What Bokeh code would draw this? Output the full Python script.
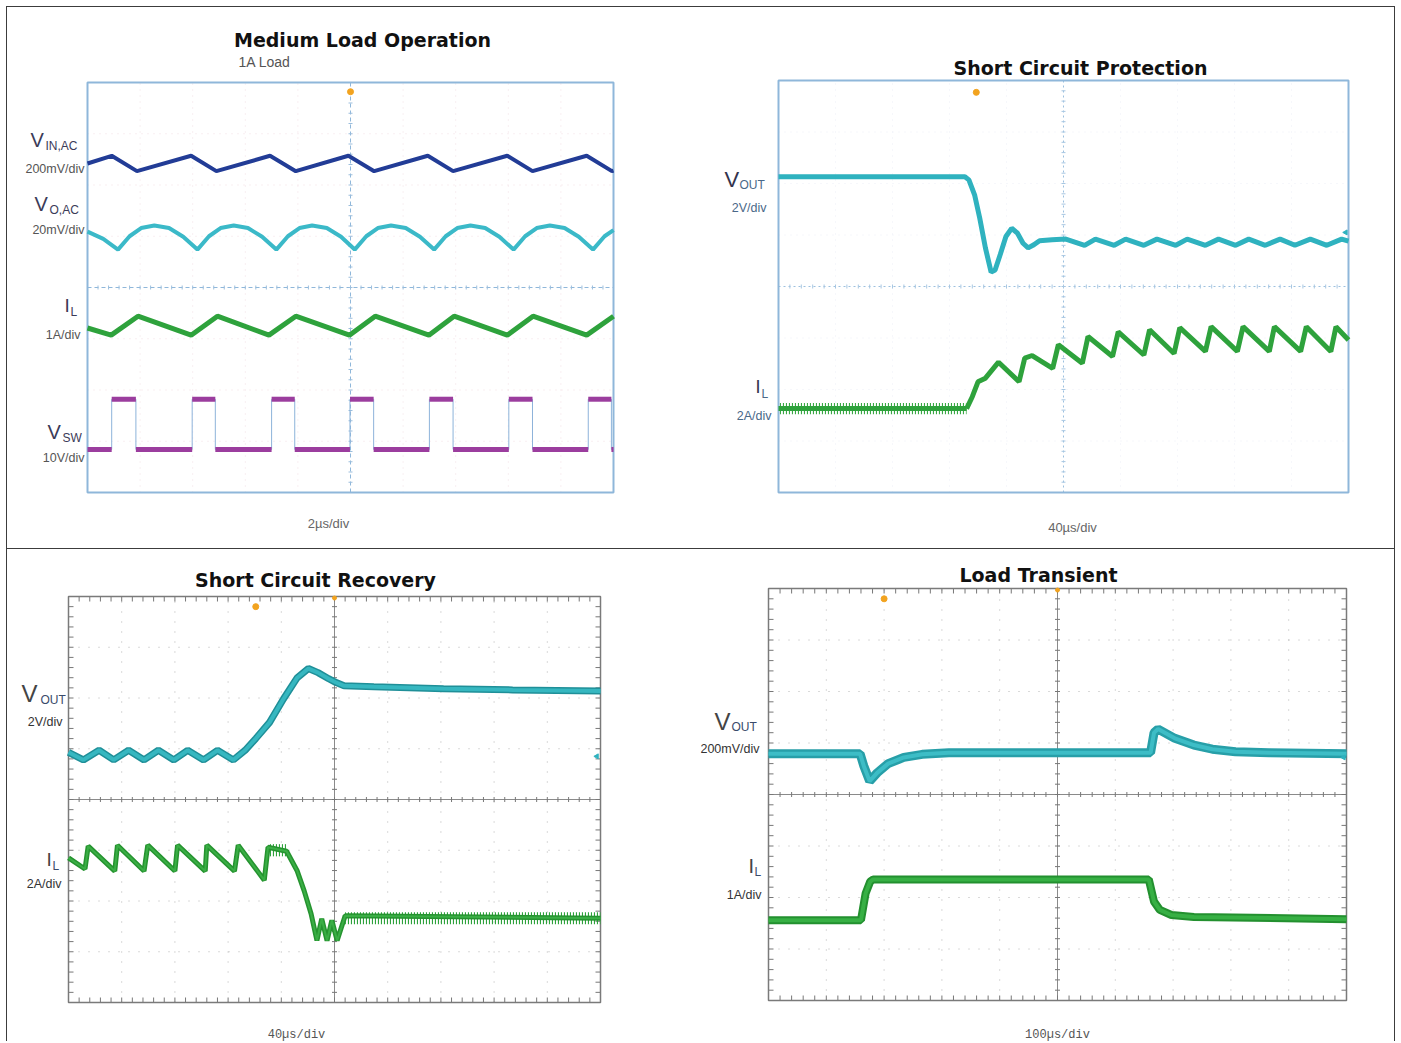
import numpy as np
from bokeh.plotting import figure
from bokeh.layouts import row, column
from bokeh.models import Range1d
from bokeh.core.properties import value
from bokeh.embed import file_html
from bokeh.resources import INLINE

# ---------------- DATA (time in horizontal divisions, amplitude in vertical divisions) -------------
# Panel 1: Medium Load Operation (2us/div)
vin_t = [0, 0.46, 0.94, 1.97, 2.45, 3.47, 3.96, 4.96, 5.45, 6.47, 6.95, 7.98, 8.46, 9.49, 9.97, 10]
vin_v = [2.42, 2.57, 2.27, 2.57, 2.27, 2.57, 2.27, 2.57, 2.27, 2.57, 2.27, 2.57, 2.27, 2.57, 2.27, 2.28]
vo_t = [0, 0.30, 0.58, 0.80, 1.02, 1.27, 1.55, 1.82, 2.09, 2.31, 2.53, 2.78, 3.05, 3.32, 3.59, 3.81,
        4.03, 4.27, 4.55, 4.82, 5.08, 5.30, 5.52, 5.77, 6.05, 6.32, 6.59, 6.81, 7.03, 7.28, 7.56, 7.83,
        8.10, 8.32, 8.54, 8.79, 9.07, 9.34, 9.61, 9.83, 10]
vo_v = [1.09, 0.95, 0.74, 1.00, 1.16, 1.21, 1.16, 0.99, 0.74, 1.00, 1.16, 1.21, 1.16, 0.99, 0.74, 1.00,
        1.16, 1.21, 1.16, 0.99, 0.74, 1.00, 1.16, 1.21, 1.16, 0.99, 0.74, 1.00, 1.16, 1.21, 1.16, 0.99,
        0.74, 1.00, 1.16, 1.21, 1.16, 0.99, 0.74, 1.00, 1.12]
il1_t = [0, 0.45, 0.96, 1.97, 2.47, 3.45, 3.96, 4.98, 5.47, 6.49, 6.97, 7.98, 8.47, 9.49, 10]
il1_v = [-0.79, -0.93, -0.56, -0.93, -0.56, -0.93, -0.56, -0.93, -0.56, -0.93, -0.56, -0.93, -0.56, -0.93, -0.56]
vsw_rise = [0.46, 1.99, 3.50, 4.99, 6.50, 8.01, 9.52]
vsw_fall = [0.92, 2.43, 3.94, 5.44, 6.95, 8.46, 9.96]
vsw_hi = -2.18
vsw_lo = -3.16

# Panel 2: Short Circuit Protection (40us/div)
vout2_t = [0, 3.27, 3.34, 3.44, 3.53, 3.63, 3.73, 3.80, 3.89, 3.99, 4.09, 4.19, 4.29, 4.38, 4.48, 4.58,
           4.80, 5.04, 5.37, 5.56, 5.89, 6.09, 6.41, 6.64, 6.97, 7.17, 7.49, 7.72, 8.02, 8.25, 8.54,
           8.80, 9.06, 9.33, 9.62, 9.88, 10]
vout2_v = [2.13, 2.13, 2.07, 1.78, 1.33, 0.75, 0.28, 0.32, 0.62, 0.97, 1.13, 1.04, 0.84, 0.75, 0.81, 0.89,
           0.91, 0.92, 0.80, 0.92, 0.80, 0.92, 0.80, 0.92, 0.80, 0.92, 0.80, 0.92, 0.80, 0.92, 0.80,
           0.92, 0.80, 0.92, 0.80, 0.92, 0.88]
il2_pre_t = [0, 3.30]
il2_pre_v = -2.37
il2_t = [3.30, 3.40, 3.50, 3.63, 3.86, 4.22, 4.32, 4.45, 4.81, 4.91, 5.33, 5.43, 5.86, 5.96, 6.41, 6.51,
         6.94, 7.04, 7.49, 7.59, 8.05, 8.15, 8.61, 8.70, 9.16, 9.26, 9.69, 9.78, 10]
il2_v = [-2.37, -2.14, -1.85, -1.78, -1.47, -1.85, -1.39, -1.34, -1.59, -1.13, -1.49, -0.97, -1.36, -0.88,
         -1.33, -0.84, -1.30, -0.80, -1.26, -0.78, -1.26, -0.78, -1.26, -0.78, -1.26, -0.78, -1.26, -0.78, -1.04]

# Panel 3: Short Circuit Recovery (40us/div)
vout3_t = [0, 0.28, 0.575, 0.85, 1.13, 1.42, 1.69, 1.98, 2.24, 2.54, 2.80, 3.10, 3.32, 3.52, 3.78, 4.04,
           4.30, 4.51, 4.69, 4.89, 5.02, 5.18, 5.74, 7.05, 8.35, 10]
vout3_v = [0.93, 0.78, 0.97, 0.78, 0.97, 0.78, 0.97, 0.78, 0.97, 0.78, 0.97, 0.78, 0.97, 1.20, 1.52, 1.98,
           2.40, 2.58, 2.50, 2.38, 2.31, 2.24, 2.22, 2.18, 2.16, 2.14]
il3_t = [0, 0.31, 0.37, 0.87, 0.92, 1.42, 1.49, 2.00, 2.05, 2.57, 2.60, 3.12, 3.19, 3.68, 3.75, 4.10,
         4.30, 4.43, 4.56, 4.67, 4.76, 4.86, 4.95, 5.05, 5.20, 10]
il3_v = [-1.15, -1.37, -0.92, -1.41, -0.90, -1.41, -0.90, -1.41, -0.90, -1.41, -0.90, -1.41, -0.90, -1.59,
         -0.94, -1.02, -1.41, -1.80, -2.25, -2.78, -2.35, -2.78, -2.38, -2.78, -2.29, -2.34]
il3_noise_t = [[3.75, 4.10], [5.20, 10]]
il3_noise_v = [-1.00, -2.34]

# Panel 4: Load Transient (100us/div)
vout4_t = [0, 1.585, 1.65, 1.75, 1.88, 2.07, 2.34, 2.66, 3.12, 6.61, 6.67, 6.74, 7.03, 7.36, 7.68, 8.08, 8.66, 10]
vout4_v = [0.79, 0.79, 0.55, 0.26, 0.42, 0.60, 0.72, 0.78, 0.81, 0.81, 1.20, 1.27, 1.09, 0.96, 0.88, 0.83, 0.81, 0.79]
il4_t = [0, 1.60, 1.68, 1.76, 1.81, 6.58, 6.67, 6.77, 6.97, 7.36, 10]
il4_v = [-2.44, -2.44, -1.92, -1.69, -1.65, -1.65, -2.08, -2.24, -2.34, -2.38, -2.42]

# trigger markers (div units)
trig = {"p1": (5.0, 3.82), "p2": (3.47, 3.77), "p3": (3.52, 3.80), "p4": (2.00, 3.80)}
# channel reference markers at the right edge (div units)
ref_mark = {"p2": (9.95, 1.05), "p3": (9.93, 0.85), "p4": (9.95, 0.72)}

# ---------------- helpers ----------------
SANS = "Liberation Sans"
TITLE_FONT = "DejaVu Sans"


class Panel:
    """A figure whose frame fills the whole canvas; the scope screen (0..10 x -4..4 div)
    is placed at a given page rectangle."""

    def __init__(self, fig_x, fig_y, w, h, scope):
        sx, sy, sw, sh = scope            # scope rectangle in page pixels
        self.scope = scope
        sl = sx - fig_x
        st = sy - fig_y
        self.ppx = sw / 10.0
        self.ppy = sh / 8.0
        x0 = -sl / self.ppx
        x1 = (w - sl) / self.ppx
        y1 = 4 + st / self.ppy
        y0 = 4 - (h - st) / self.ppy
        p = figure(width=w, height=h, x_range=Range1d(x0, x1), y_range=Range1d(y0, y1),
                   x_axis_location=None, y_axis_location=None, toolbar_location=None,
                   output_backend="svg", min_border=0, title=None)
        p.min_border_left = p.min_border_right = p.min_border_top = p.min_border_bottom = 0
        p.grid.visible = False
        p.outline_line_color = None
        p.background_fill_color = "white"
        p.border_fill_color = "white"
        self.p = p

    def dx(self, px):
        return (px - self.scope[0]) / self.ppx

    def dy(self, py):
        return 4.0 - (py - self.scope[1]) / self.ppy

    def txt(self, px, py, text, size, color, align="left", bold=False, font=SANS):
        self.p.text(x=[self.dx(px)], y=[self.dy(py)], text=[text], text_font=value(font),
                    text_font_size=value(f"{size}px"), text_color=color, text_align=align,
                    text_baseline="middle", text_font_style="bold" if bold else "normal")

    def chan(self, vx, vy, main, main_size, sub, sx, sy, per, px, py, main_color, sub_color,
             per_color, sub_size=12, per_size=12.5):
        self.txt(vx, vy, main, main_size, main_color)
        self.txt(sx, sy, sub, sub_size, sub_color)
        self.txt(px, py, per, per_size, per_color, align="right")

    def screen(self, grid_color, grid_dash, center_color, center_dash, tick_color, tick_px,
               outline_color, outline_width, edge_ticks=False):
        p = self.p
        gx = [1, 2, 3, 4, 6, 7, 8, 9]
        gy = [-3, -2, -1, 1, 2, 3]
        p.segment(x0=gx, y0=[-4] * len(gx), x1=gx, y1=[4] * len(gx), line_color=grid_color,
                  line_dash=grid_dash, line_width=1)
        p.segment(x0=[0] * len(gy), y0=gy, x1=[10] * len(gy), y1=gy, line_color=grid_color,
                  line_dash=grid_dash, line_width=1)
        p.segment(x0=[5, 0], y0=[-4, 0], x1=[5, 10], y1=[4, 0], line_color=center_color,
                  line_dash=center_dash, line_width=1)
        tx = np.arange(1, 50) * 0.2
        ty = np.arange(-19, 20) * 0.2
        p.scatter(x=tx, y=np.zeros_like(tx), marker="dash", angle=np.pi / 2, size=tick_px,
                  line_color=tick_color, line_width=1)
        p.scatter(x=np.full_like(ty, 5.0), y=ty, marker="dash", size=tick_px,
                  line_color=tick_color, line_width=1)
        if edge_ticks:
            iy = (tick_px / 2) / self.ppy
            ix = (tick_px / 2) / self.ppx
            p.scatter(x=tx, y=np.full_like(tx, 4 - iy), marker="dash", angle=np.pi / 2,
                      size=tick_px, line_color=tick_color, line_width=1)
            p.scatter(x=tx, y=np.full_like(tx, -4 + iy), marker="dash", angle=np.pi / 2,
                      size=tick_px, line_color=tick_color, line_width=1)
            p.scatter(x=np.full_like(ty, ix), y=ty, marker="dash", size=tick_px,
                      line_color=tick_color, line_width=1)
            p.scatter(x=np.full_like(ty, 10 - ix), y=ty, marker="dash", size=tick_px,
                      line_color=tick_color, line_width=1)
        p.quad(left=[0], right=[10], bottom=[-4], top=[4], fill_color=None,
               line_color=outline_color, line_width=outline_width)


TEAL = "#2fb2bf"
GREEN = "#2ea23c"
NAVY = "#223c96"
PURPLE = "#9b3d9e"
ORANGE = "#f2a31f"

# page geometry: column at (6,6), dark background, 1px lines
A = Panel(7, 7, 693, 541, (87, 82, 526, 410))
B = Panel(700, 7, 694, 541, (778, 80, 570, 412))
C = Panel(7, 549, 693, 492, (68, 596, 532, 406))
D = Panel(700, 549, 694, 492, (768, 588, 578, 412))

# ---------------- Panel 1 ----------------
A.screen("#f1dfe3", "1 5", "#8fb7da", "4 3", "#9dbfdd", 4, "#8fb7da", 2)
p1 = A.p
p1.line(vin_t, vin_v, line_color=NAVY, line_width=4)
p1.line(vo_t, vo_v, line_color="#3bb9c8", line_width=4)
p1.line(il1_t, il1_v, line_color=GREEN, line_width=5)
sw_t, sw_v = [0], [vsw_lo]
for r, f in zip(vsw_rise, vsw_fall):
    sw_t += [r, r, f, f]
    sw_v += [vsw_lo, vsw_hi, vsw_hi, vsw_lo]
sw_t.append(10)
sw_v.append(vsw_lo)
p1.line(sw_t, sw_v, line_color="#8db3da", line_width=1)
p1.segment(x0=vsw_rise, y0=[vsw_hi] * len(vsw_rise), x1=vsw_fall, y1=[vsw_hi] * len(vsw_fall),
           line_color=PURPLE, line_width=5)
lo_start = [0] + vsw_fall
lo_end = vsw_rise + [10]
p1.segment(x0=lo_start, y0=[vsw_lo] * len(lo_start), x1=lo_end, y1=[vsw_lo] * len(lo_end),
           line_color=PURPLE, line_width=5)
p1.scatter([trig["p1"][0]], [trig["p1"][1]], size=6, color=ORANGE)
A.txt(362, 39, "Medium Load Operation", 19, "#111111", align="center", bold=True, font=TITLE_FONT)
A.txt(238, 61, "1A Load", 14, "#555555")
LBL1 = "#3b3b58"
A.chan(30, 139, "V", 20, "IN,AC", 45, 145, "200mV/div", 84, 168, LBL1, LBL1, "#555555")
A.chan(34, 203, "V", 20, "O,AC", 49, 209, "20mV/div", 84, 229, LBL1, LBL1, "#555555")
A.chan(64, 305, "I", 19, "L", 70, 311, "1A/div", 80, 334, LBL1, LBL1, "#555555")
A.chan(47, 431, "V", 20, "SW", 62, 437, "10V/div", 84, 457, LBL1, LBL1, "#555555")
A.txt(328, 523, "2µs/div", 13, "#666666", align="center")

# ---------------- Panel 2 ----------------
B.screen("#eceff6", "1 5", "#9cc0df", "2 3", "#a8c7e2", 4, "#8fb7da", 2)
p2 = B.p
p2.line(vout2_t, vout2_v, line_color=TEAL, line_width=5)
p2.varea(x=il2_pre_t, y1=[il2_pre_v - 0.11] * 2, y2=[il2_pre_v + 0.11] * 2, fill_alpha=0,
         hatch_pattern="vertical_line", hatch_color="#3aa845", hatch_scale=3, hatch_weight=1.2)
p2.line(il2_pre_t, [il2_pre_v] * 2, line_color=GREEN, line_width=5)
p2.line(il2_t, il2_v, line_color=GREEN, line_width=5)
p2.scatter([trig["p2"][0]], [trig["p2"][1]], size=6, color=ORANGE)
p2.scatter([ref_mark["p2"][0]], [ref_mark["p2"][1]], marker="triangle", angle=np.pi / 2, size=5,
           color=TEAL)
B.txt(1080, 67, "Short Circuit Protection", 19, "#111111", align="center", bold=True, font=TITLE_FONT)
B.chan(724, 179, "V", 22, "OUT", 739, 184, "2V/div", 766, 207, "#33334d", "#4a6888", "#4a6888")
B.chan(755, 386, "I", 18, "L", 761, 393, "2A/div", 771, 415, "#33334d", "#4a6888", "#4a6888")
B.txt(1072, 527, "40µs/div", 13, "#666666", align="center")

# ---------------- Panel 3 ----------------
C.screen("#b4b4b4", "1 9", "#8a8a8a", "solid", "#777777", 5, "#7a7a7a", 1.5, edge_ticks=True)
p3 = C.p
p3.line(vout3_t, vout3_v, line_color="#1f8f98", line_width=7)
p3.line(vout3_t, vout3_v, line_color="#36b7c0", line_width=4)
for seg_t, seg_v in zip(il3_noise_t, il3_noise_v):
    p3.varea(x=seg_t, y1=[seg_v - 0.12] * 2, y2=[seg_v + 0.12] * 2, fill_alpha=0,
             hatch_pattern="vertical_line", hatch_color=GREEN, hatch_scale=3, hatch_weight=1.2)
p3.line(il3_t, il3_v, line_color="#25932f", line_width=5)
p3.line(il3_t, il3_v, line_color="#3aae45", line_width=2)
p3.scatter([trig["p3"][0], 5.0], [trig["p3"][1], 3.97], size=[6, 4], color=ORANGE)
p3.scatter([ref_mark["p3"][0]], [ref_mark["p3"][1]], marker="triangle", angle=np.pi / 2, size=5,
           color=TEAL)
C.txt(315, 579, "Short Circuit Recovery", 19, "#111111", align="center", bold=True, font=TITLE_FONT)
C.chan(21, 693, "V", 24, "OUT", 40, 699, "2V/div", 62, 721, "#444444", "#3a4a6a", "#333333")
C.chan(46, 859, "I", 19, "L", 52, 865, "2A/div", 61, 883, "#444444", "#3a4a6a", "#333333")
C.txt(296, 1034, "40µs/div", 12, "#555555", align="center", font="Liberation Mono")

# ---------------- Panel 4 ----------------
D.screen("#b4b4b4", "1 9", "#8a8a8a", "solid", "#777777", 5, "#7a7a7a", 1.5, edge_ticks=True)
p4 = D.p
p4.line(vout4_t, vout4_v, line_color="#279fa8", line_width=9)
p4.line(vout4_t, vout4_v, line_color="#3dbdc6", line_width=4)
p4.line(il4_t, il4_v, line_color="#23902f", line_width=8)
p4.line(il4_t, il4_v, line_color="#37b044", line_width=4)
p4.scatter([trig["p4"][0], 5.0], [trig["p4"][1], 3.97], size=[6, 4], color=ORANGE)
p4.scatter([ref_mark["p4"][0]], [ref_mark["p4"][1]], marker="triangle", angle=np.pi / 2, size=5,
           color=TEAL)
D.txt(1038, 574, "Load Transient", 19, "#111111", align="center", bold=True, font=TITLE_FONT)
D.chan(714, 721, "V", 24, "OUT", 731, 726, "200mV/div", 759, 748, "#444444", "#3a4a6a", "#333333")
D.chan(748, 865, "I", 20, "L", 754, 871, "1A/div", 761, 894, "#444444", "#3a4a6a", "#333333")
D.txt(1057, 1034, "100µs/div", 12, "#555555", align="center", font="Liberation Mono")

top = row(A.p, B.p, spacing=0, margin=(1, 1, 0, 1), styles={"background-color": "white"})
bottom = row(C.p, D.p, spacing=0, margin=(0, 1, 0, 1), styles={"background-color": "white"})
layout = column(top, bottom, spacing=1, margin=(6, 0, 0, 6),
                styles={"background-color": "#3c3c3c"})

open("out.html", "w").write(file_html(layout, INLINE))
